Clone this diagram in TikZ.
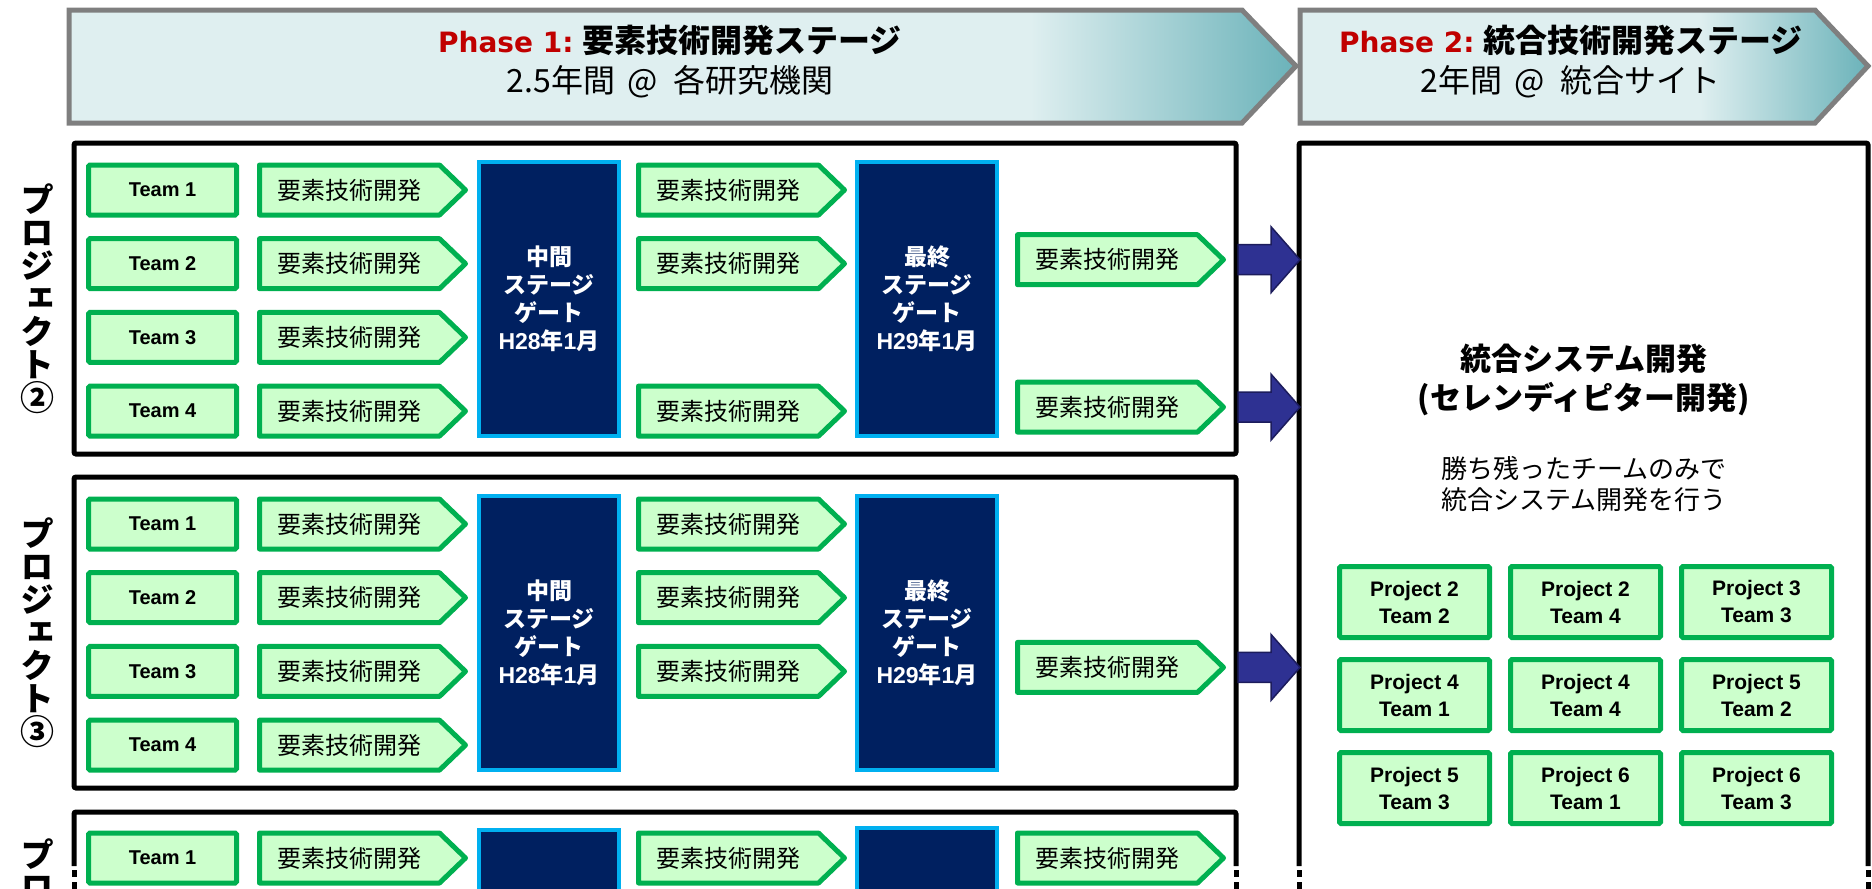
\documentclass[tikz,border=0pt]{standalone}
\usepackage{fontspec}
\setmainfont{Noto Sans CJK JP}
\newfontfamily\arial{Liberation Sans}
\newfontfamily\dejav{DejaVu Sans}
\newfontfamily\vjp{Noto Sans CJK JP}[RawFeature={+vert}]
\usetikzlibrary{calc}

\definecolor{gline}{HTML}{00B050}
\definecolor{gfill}{HTML}{CCFFCC}
\definecolor{navy}{HTML}{002060}
\definecolor{gateline}{HTML}{00B0F0}
\definecolor{arrfill}{HTML}{2E3192}
\definecolor{arrline}{HTML}{1C1C5C}
\definecolor{banlight}{HTML}{DFEFF0}
\definecolor{banteal}{HTML}{6AB2B9}
\definecolor{banline}{HTML}{7F7F7F}
\definecolor{phred}{HTML}{C00000}

\tikzset{
  every node/.style={inner sep=0pt, outer sep=0pt},
  teambox/.style={draw=gline, fill=gfill, line width=5pt, minimum width=148pt, minimum height=50pt,
    rounded corners=1.5pt, font=\arial\bfseries\fontsize{20}{24}\selectfont},
  chevgeo/.style={minimum width=180pt, minimum height=50pt},
  chevline/.style={draw=gline, fill=gfill, line width=5pt, line join=round},
  chevtxt/.style={font=\fontsize{24}{28}\selectfont},
  gatebox/.style={draw=gateline, fill=navy, line width=4.5pt, minimum width=140pt, minimum height=274pt,
    text=white, align=center, font=\bfseries\fontsize{23}{28}\selectfont},
  gridbox/.style={draw=gline, fill=gfill, line width=5pt, minimum width=150pt, minimum height=71pt,
    rounded corners=1.5pt, align=center, font=\arial\bfseries\fontsize{21}{27}\selectfont},
  pbox/.style={draw=black, line width=5pt, rounded corners=2pt},
  pline/.style={draw=black, line width=5pt, rounded corners=2pt},
  pdash/.style={draw=black, line width=5pt, dash pattern=on 7pt off 5pt},
  bigarrow/.style={fill=arrfill, draw=arrline, line width=1.5pt, line join=miter},
  banborder/.style={draw=banline, line width=5pt, line join=miter},
  bantxt/.style={align=center, font=\fontsize{32}{40}\selectfont},
  plabel/.style={align=center, font=\vjp\bfseries\fontsize{34}{33}\selectfont},
  rtitle/.style={align=center, font=\bfseries\fontsize{31}{39}\selectfont},
  rsub/.style={align=center, font=\fontsize{26}{31}\selectfont},
}

\newcommand\chev[3]{%
  \node[chevgeo, anchor=west] (#1) at (#2,#3) {};
  \filldraw[chevline] (#1.north west) -- (#1.north east) -- ([xshift=26pt]#1.east) -- (#1.south east) -- (#1.south west) -- cycle;
  \node[chevtxt] (#1t) at (#1.center) {要素技術開発};}

\newcommand\barrow[2]{%
  \coordinate (#1) at (1238,#2);
  \filldraw[bigarrow] (#1) ++(0,-15) -- ++(33,0) -- ++(0,-18) -- ++(29,33) -- ++(-29,33) -- ++(0,-18) -- ++(-33,0) -- cycle;}

\newcommand\phasetag[1]{{\dejav\bfseries\fontsize{28}{40}\selectfont\color{phred}Phase #1:}\hspace{9pt}}
\newcommand\atsign{\hspace{12pt}@\hspace{16pt}}

\begin{document}
\begin{tikzpicture}[x=1pt, y=-1pt]
\useasboundingbox (0,0) rectangle (1872,889);
\begin{scope}
\clip (0,0) rectangle (1872,889);

% ---------- banners ----------
\begin{scope}
  \clip (69,10) -- (1242,10) -- (1296,66) -- (1242,123) -- (69,123) -- cycle;
  \fill[banlight] (69,10) rectangle (1297,123);
  \shade[left color=banlight, right color=banteal] (1030,10) rectangle (1297,123);
\end{scope}
\draw[banborder] (69,10) -- (1242,10) -- (1296,66) -- (1242,123) -- (69,123) -- cycle;

\begin{scope}
  \clip (1300,10) -- (1815,10) -- (1868,66) -- (1815,123) -- (1300,123) -- cycle;
  \fill[banlight] (1300,10) rectangle (1869,123);
  \shade[left color=banlight, right color=banteal] (1700,10) rectangle (1869,123);
\end{scope}
\draw[banborder] (1300,10) -- (1815,10) -- (1868,66) -- (1815,123) -- (1300,123) -- cycle;

\node[bantxt] (ph1) at (670,62) {\phasetag{1}{\bfseries 要素技術開発ステージ}\\2.5年間\atsign 各研究機関};
\node[bantxt] (ph2) at (1571,62) {\phasetag{2}{\bfseries 統合技術開発ステージ}\\2年間\atsign 統合サイト};

% ---------- project containers ----------
\node[pbox, minimum width=1162pt, minimum height=311pt] (P2) at (655,298.5) {};
\node[pbox, minimum width=1162pt, minimum height=311pt] (P3) at (655,632.5) {};
\draw[pline] (74,866) -- (74,812) -- (1236,812) -- (1236,866);
\draw[pdash] (74,870) -- (74,895);
\draw[pdash] (1236,870) -- (1236,895);

% right container
\draw[pline] (1299,866) -- (1299,143) -- (1868,143) -- (1868,866);
\draw[pdash] (1299,870) -- (1299,895);
\draw[pdash] (1868,870) -- (1868,895);

% ---------- project labels ----------
\node[plabel] (L2) at (37,298.5) {プ\\ロ\\ジ\\ェ\\ク\\ト\\②};
\node[plabel] (L3) at (37,632.5) {プ\\ロ\\ジ\\ェ\\ク\\ト\\③};
\node[plabel, anchor=north] (L4) at (37,839) {プ\\ロ};

% ---------- teams ----------
\foreach \p/\y in {2/190, 3/524} {
  \foreach \t in {1,...,4} {
    \node[teambox] (T\p\t) at (162.5,{\y+73.7*(\t-1)}) {Team \t};
  }
}
\node[teambox] (T41) at (162.5,858) {Team 1};

% ---------- column 1 chevrons ----------
\chev{A21}{259.5}{190}
\chev{A22}{259.5}{263.7}
\chev{A23}{259.5}{337.4}
\chev{A24}{259.5}{411.1}
\chev{A31}{259.5}{524}
\chev{A32}{259.5}{597.7}
\chev{A33}{259.5}{671.4}
\chev{A34}{259.5}{745.1}
\chev{A41}{259.5}{858}

% ---------- gates ----------
\node[gatebox] (G21) at (549,299) {中間\\ステージ\\ゲート\\{\arial H28}年{\arial 1}月};
\node[gatebox] (G22) at (927,299) {最終\\ステージ\\ゲート\\{\arial H29}年{\arial 1}月};
\node[gatebox] (G31) at (549,633) {中間\\ステージ\\ゲート\\{\arial H28}年{\arial 1}月};
\node[gatebox] (G32) at (927,633) {最終\\ステージ\\ゲート\\{\arial H29}年{\arial 1}月};
\node[gatebox] (G41) at (549,967) {};
\node[gatebox] (G42) at (927,965) {};

% ---------- column 2 chevrons ----------
\chev{B21}{638.5}{190}
\chev{B22}{638.5}{263.7}
\chev{B24}{638.5}{411.1}
\chev{B31}{638.5}{524}
\chev{B32}{638.5}{597.7}
\chev{B33}{638.5}{671.4}
\chev{B41}{638.5}{858}

% ---------- column 3 chevrons ----------
\chev{C22}{1017.5}{259.7}
\chev{C24}{1017.5}{407.1}
\chev{C33}{1017.5}{667.4}
\chev{C41}{1017.5}{858}

% ---------- big arrows ----------
\barrow{X22}{259.7}
\barrow{X24}{407.1}
\barrow{X33}{667.4}

% ---------- right panel ----------
\node[rtitle] (RT) at (1584,380) {統合システム開発\\(セレンディピター開発)};
\node[rsub] (RS) at (1584,484) {勝ち残ったチームのみで\\統合システム開発を行う};

\node[gridbox] (G11) at (1414.5,602) {Project 2\\Team 2};
\node[gridbox] (G12) at (1585.5,602) {Project 2\\Team 4};
\node[gridbox] (G13) at (1756.5,602) {Project 3\\Team 3};
\node[gridbox] (G21x) at (1414.5,695) {Project 4\\Team 1};
\node[gridbox] (G22x) at (1585.5,695) {Project 4\\Team 4};
\node[gridbox] (G23x) at (1756.5,695) {Project 5\\Team 2};
\node[gridbox] (G31x) at (1414.5,788) {Project 5\\Team 3};
\node[gridbox] (G32x) at (1585.5,788) {Project 6\\Team 1};
\node[gridbox] (G33x) at (1756.5,788) {Project 6\\Team 3};
\end{scope}
\end{tikzpicture}
\end{document}
